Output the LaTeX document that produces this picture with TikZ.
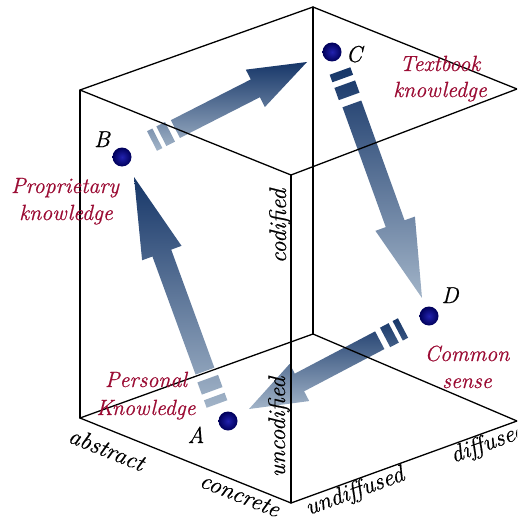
\documentclass[tikz,border=0pt]{standalone}
\usepackage{fontspec}
\setmainfont{Latin Modern Roman}[ItalicFeatures={FakeBold=0.6}]
\usetikzlibrary{calc}
\definecolor{kdark}{RGB}{22,54,104}
\definecolor{klight}{RGB}{162,180,200}
\definecolor{kred}{RGB}{155,12,52}
\definecolor{kball}{RGB}{34,34,175}
\definecolor{kballdark}{RGB}{0,0,90}
\tikzset{
  edge/.style={line width=1.3pt, black, line cap=round, line join=round},
  kshade/.style={top color=kdark, bottom color=klight},
  kdot/.style={circle, minimum size=19pt, inner sep=0pt, inner color=kball, outer color=kballdark},
  redlab/.style={text=kred, font=\fontsize{22}{26}\selectfont\itshape, anchor=base, inner sep=0pt},
  ptlab/.style={font=\fontsize{23}{26}\selectfont\itshape, anchor=base, inner sep=0pt},
  axlab/.style={font=\fontsize{24}{26}\selectfont\itshape, inner sep=0pt},
}
\newcommand\karrow[4]{%
  \pgfmathsetmacro\kA{8*#3}%
  \pgfmathsetmacro\kB{14*#3}%
  \pgfmathsetmacro\kC{27*#3}%
  \pgfmathsetmacro\kD{35*#3}%
  \shade[kshade]
   ($(#1)!11pt!90:(#2)$) -- ($(#1)!11pt!-90:(#2)$) -- ($(#1)!\kA pt!(#2)!11pt!-90:(#2)$) -- ($(#1)!\kA pt!(#2)!11pt!90:(#2)$) -- cycle
   ($(#1)!\kB pt!(#2)!11pt!90:(#2)$) -- ($(#1)!\kB pt!(#2)!11pt!-90:(#2)$) -- ($(#1)!\kC pt!(#2)!11pt!-90:(#2)$) -- ($(#1)!\kC pt!(#2)!11pt!90:(#2)$) -- cycle
   ($(#1)!\kD pt!(#2)!10pt!90:(#2)$) -- ($(#1)!\kD pt!(#2)!10pt!-90:(#2)$) -- ($(#2)!#4pt!(#1)!10pt!90:(#1)$) -- ($(#2)!#4pt!(#1)!21pt!90:(#1)$) -- (#2) -- ($(#2)!#4pt!(#1)!21pt!-90:(#1)$) -- ($(#2)!#4pt!(#1)!10pt!-90:(#1)$) -- cycle;
}
\begin{document}
\begin{tikzpicture}[x=1pt,y=-1pt]
\useasboundingbox (0,0) rectangle (517,519);
\clip (0,0) rectangle (517,519);
% cube corners
\coordinate (tl) at (80,90);
\coordinate (tb) at (313,7);
\coordinate (tr) at (517,89);
\coordinate (tf) at (291,175);
\coordinate (bl) at (80,418);
\coordinate (bb) at (313,334);
\coordinate (br) at (517,421);
\coordinate (bf) at (291,503);
% arrow ends
\coordinate (abT) at (217,404); \coordinate (abH) at (134,177);
\coordinate (bcT) at (152,141); \coordinate (bcH) at (307,62);
\coordinate (cdT) at (340,71);  \coordinate (cdH) at (422,298);
\coordinate (daT) at (403,328); \coordinate (daH) at (249,409);
% arrows
\karrow{abT}{abH}{1}{81}
\karrow{bcT}{bcH}{0.75}{58}
\karrow{cdT}{cdH}{1}{79}
\karrow{daT}{daH}{0.75}{57}
% cube edges
\draw[edge] (tl) -- (tb) -- (tr) -- (tf) -- cycle;
\draw[edge] (tl) -- (bl);
\draw[edge] (tf) -- (bf);
\draw[edge] (tb) -- (bb);
\draw[edge] (bl) -- (bf) -- (br);
\draw[edge] (bl) -- (bb) -- (br);
% dots
\node[kdot] (a) at (228,421) {};
\node[kdot] (b) at (122,157) {};
\node[kdot] (c) at (332,52) {};
\node[kdot] (d) at (429,316) {};
% letters
\node[ptlab] (la) at (196,443) {A};
\node[ptlab] (lb) at (102,147) {B};
\node[ptlab] (lc) at (354,62) {C};
\node[ptlab] (ld) at (450,303) {D};
% red labels
\node[redlab] (p1) at (65,193) {Proprietary};
\node[redlab] (p2) at (66,220) {knowledge};
\node[redlab] (t1) at (440,71) {Textbook};
\node[redlab] (t2) at (440,97) {knowledge};
\node[redlab] (c1) at (467,361) {Common};
\node[redlab] (c2) at (467,388) {sense};
\node[redlab] (k1) at (146,387) {Personal};
\node[redlab] (k2) at (146,415) {Knowledge};
% axis labels
\node[axlab, rotate=-22] (xa) at (107,449) {abstract};
\node[axlab, rotate=-22] (xc) at (240,495) {concrete};
\node[axlab, rotate=20] (yu) at (355,492) {undiffused};
\node[axlab, rotate=20] (yd) at (488,444) {diffused};
\node[axlab, rotate=90] (zc) at (280,226) {codified};
\node[axlab, rotate=90] (zu) at (279,427) {uncodified};
\end{tikzpicture}
\end{document}
